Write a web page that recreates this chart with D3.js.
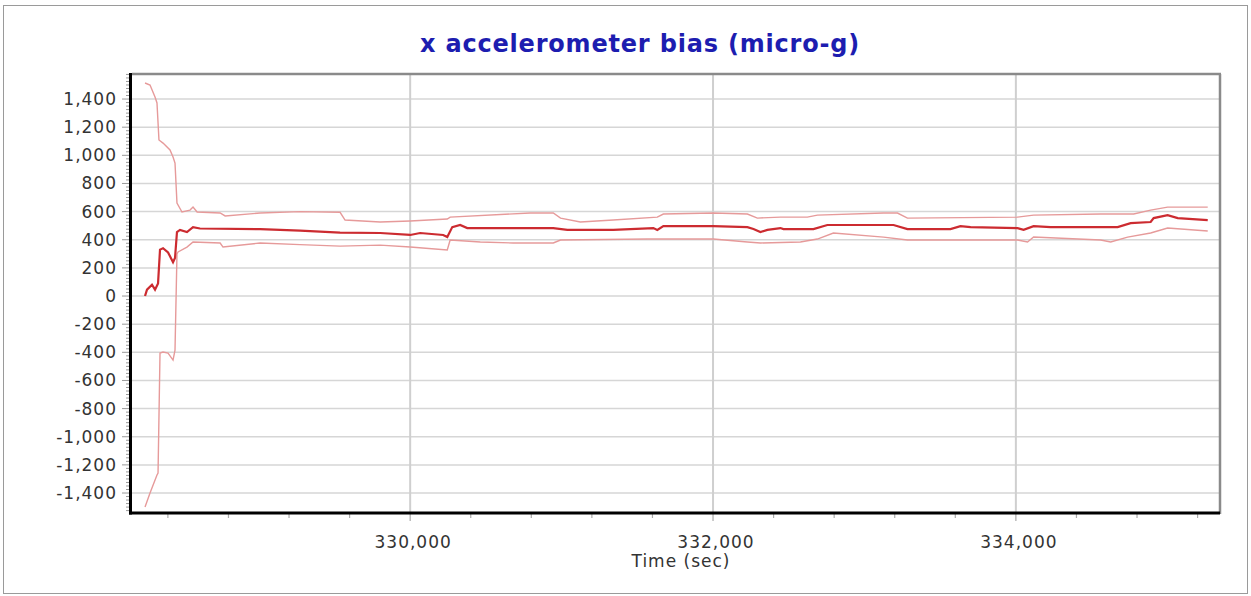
<!DOCTYPE html>
<html>
<head>
<meta charset="utf-8">
<script src="https://cdn.jsdelivr.net/npm/d3@7"></script>
<style>
  html, body { margin: 0; padding: 0; background: #fff; }
  svg { display: block; }
  text { font-family: "DejaVu Sans", Verdana, sans-serif; }
</style>
</head>
<body>
<svg id="chart" width="1251" height="596"></svg>
<script>
// ---- data (time in sec, value in micro-g) ----
const centerTime = [328249,328262,328295,328315,328335,328348,328368,328401,328434,328447,328460,328480,328526,328566,328612,329009,329273,329537,329802,330000,330066,330218,330245,330278,330330,330377,330945,331038,331341,331606,331632,331672,332002,332227,332267,332313,332359,332445,332465,332663,332755,333192,333284,333568,333634,333701,334011,334051,334117,334229,334672,334758,334890,334910,335002,335069,335267];
const centerValue = [0,45,80,45,90,330,340,310,240,270,455,470,455,490,480,475,465,450,448,434,448,434,420,490,505,483,483,470,470,483,470,497,497,490,476,455,470,483,476,476,505,505,476,476,497,490,483,470,497,490,490,518,526,554,575,554,540];

const upperTime = [328249,328282,328315,328328,328341,328368,328414,328434,328447,328460,328493,328546,328566,328593,328745,328778,329009,329273,329537,329570,329802,330000,330245,330264,330793,330945,330993,331124,331341,331632,331672,332002,332227,332293,332445,332623,332689,333126,333218,333284,334011,334117,334560,334778,334890,335002,335267];
const upperValue = [1514,1500,1414,1372,1109,1087,1038,988,945,661,597,611,632,597,590,569,590,600,595,540,526,533,547,561,590,590,554,526,540,561,583,590,583,554,561,561,575,590,590,554,561,575,583,583,611,632,632];

const lowerTime = [328249,328282,328328,328335,328348,328368,328401,328434,328447,328460,328467,328526,328566,328745,328764,329009,329273,329537,329802,330000,330245,330264,330463,330681,330945,330993,331566,332002,332227,332313,332577,332689,332795,333126,333284,334011,334077,334117,334560,334626,334738,334890,335002,335267];
const lowerValue = [-1500,-1400,-1272,-1258,-405,-398,-405,-455,-384,300,313,348,384,377,348,377,365,355,362,348,327,398,384,377,377,398,405,405,384,377,384,405,448,419,398,398,384,419,398,384,419,448,483,462];

const xMajorTicks = [330000, 332000, 334000];
const yMajorTicks = [-1400,-1200,-1000,-800,-600,-400,-200,0,200,400,600,800,1000,1200,1400];
const titleText = "x accelerometer bias (micro-g)";
const xAxisTitle = "Time (sec)";

// ---- layout ----
const svg = d3.select("#chart");
const L = 132, R = 1220, T = 74, B = 513;
const x = d3.scaleLinear().domain([328163, 335348]).range([L, R]);
const y = d3.scaleLinear().domain([-1542, 1578]).range([B, T]);
const fmt0 = d3.format(",");
const fmt = d => fmt0(d).replace("\u2212", "-");

// outer frame
svg.append("rect").attr("x", 3.5).attr("y", 5.5).attr("width", 1244).attr("height", 588)
  .attr("fill", "#fff").attr("stroke", "#9a9a9a").attr("stroke-width", 1);

// title
svg.append("text").attr("x", 640).attr("y", 52).attr("text-anchor", "middle")
  .attr("font-size", 24).attr("font-weight", "bold").attr("letter-spacing", 0.8)
  .attr("fill", "#1d1db0").text(titleText);

// gridlines
const grid = svg.append("g");
grid.selectAll("line.h").data(yMajorTicks).join("line")
  .attr("x1", L).attr("x2", R).attr("y1", d => y(d)).attr("y2", d => y(d))
  .attr("stroke", "#d6d6d6").attr("stroke-width", 1.5);
grid.selectAll("line.v").data(xMajorTicks).join("line")
  .attr("y1", T).attr("y2", B).attr("x1", d => x(d)).attr("x2", d => x(d))
  .attr("stroke", "#cfcfcf").attr("stroke-width", 2);

// lines
const mk = (ts, vs) => ts.map((t, i) => [t, vs[i]]);
const line = d3.line().x(d => x(d[0])).y(d => y(d[1]));
svg.append("path").datum(mk(upperTime, upperValue)).attr("d", line)
  .attr("fill", "none").attr("stroke", "#e69a9a").attr("stroke-width", 1.4);
svg.append("path").datum(mk(lowerTime, lowerValue)).attr("d", line)
  .attr("fill", "none").attr("stroke", "#e69a9a").attr("stroke-width", 1.4);
svg.append("path").datum(mk(centerTime, centerValue)).attr("d", line)
  .attr("fill", "none").attr("stroke", "#cc2b30").attr("stroke-width", 2.2);

// frame: top/right gray, left/bottom black
svg.append("line").attr("x1", L).attr("x2", R + 1).attr("y1", T).attr("y2", T)
  .attr("stroke", "#8a8a8a").attr("stroke-width", 2.5);
svg.append("line").attr("x1", R).attr("x2", R).attr("y1", T).attr("y2", B + 1)
  .attr("stroke", "#8a8a8a").attr("stroke-width", 2.5);

// y axis
const yMinor = d3.range(-1525, 1576, 25);
svg.append("g").selectAll("line").data(yMinor).join("line")
  .attr("x1", d => (d % 200 === 0) ? L - 10 : L - 6).attr("x2", L)
  .attr("y1", d => y(d)).attr("y2", d => y(d))
  .attr("stroke", "#9a9a9a").attr("stroke-width", 1);
svg.append("g").selectAll("text").data(yMajorTicks).join("text")
  .attr("x", 117).attr("y", d => y(d) + 6).attr("text-anchor", "end")
  .attr("font-size", 17).attr("letter-spacing", 1).attr("fill", "#333").text(d => fmt(d));

// x axis
const xMinor = d3.range(328400, 335348, 400);
svg.append("g").selectAll("line").data(xMinor).join("line")
  .attr("x1", d => x(d)).attr("x2", d => x(d))
  .attr("y1", B).attr("y2", d => (d % 2000 === 0) ? B + 8 : B + 5)
  .attr("stroke", "#aaaaaa").attr("stroke-width", 1.2);
svg.append("g").selectAll("text").data(xMajorTicks).join("text")
  .attr("x", d => x(d) + 3).attr("y", 548).attr("text-anchor", "middle")
  .attr("font-size", 17).attr("letter-spacing", 1).attr("fill", "#333").text(d => fmt(d));
svg.append("text").attr("x", (L + R) / 2 + 5).attr("y", 567).attr("text-anchor", "middle")
  .attr("font-size", 17).attr("letter-spacing", 1).attr("fill", "#333").text(xAxisTitle);

svg.append("line").attr("x1", L - 1.5).attr("x2", L - 1.5).attr("y1", T - 1).attr("y2", B + 1.5)
  .attr("stroke", "#000").attr("stroke-width", 3);
svg.append("line").attr("x1", L - 3).attr("x2", R).attr("y1", B).attr("y2", B)
  .attr("stroke", "#000").attr("stroke-width", 3);
</script>
</body>
</html>
